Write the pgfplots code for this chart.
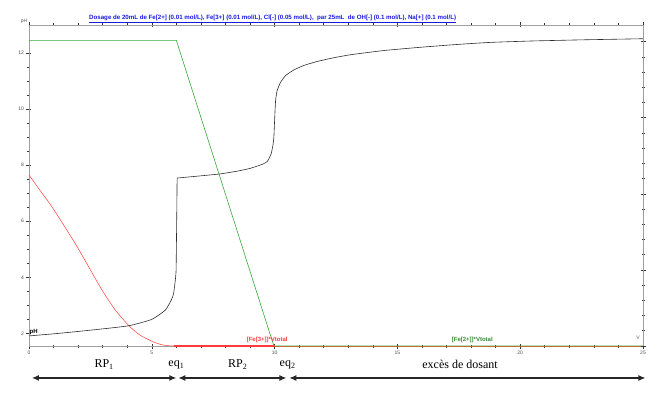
\documentclass[border=0pt]{standalone}
\usepackage{pgfplots}
\pgfplotsset{compat=1.18}
\usetikzlibrary{arrows.meta}
\usepackage{fontspec}
\setmainfont{Liberation Sans}
\newfontfamily\serif{Liberation Serif}
\definecolor{cblack}{RGB}{45,45,45}
\definecolor{cgreen}{RGB}{60,165,60}
\definecolor{cred}{RGB}{255,60,60}
\definecolor{cblue}{RGB}{25,25,225}
\begin{document}
\begin{tikzpicture}
\begin{axis}[
  scale only axis, width=614pt, height=321pt,
  xmin=0, xmax=25, ymin=1.55, ymax=13.0,
  clip=false,
  axis line style={gray!75, line width=0.8pt},
  xtick={0,5,...,25}, minor x tick num=4,
  ytick={2,4,...,12}, minor y tick num=3,
  xtick pos=both, xticklabel pos=lower, ytick pos=left,
  tick align=center, major tick length=5pt, minor tick length=3pt,
  tick style={gray!40!black, line width=0.6pt},
  ticklabel style={font=\fontsize{5}{6}\selectfont, text=gray!60!black},
  xticklabel style={yshift=1pt},
  yticklabel style={xshift=1pt},
  /pgf/number format/assume math mode=true,
]
% red [Fe3+]*Vtotal
\addplot[cred, line width=0.5pt, smooth, tension=0.4] coordinates {
(0,7.65) (0.45,7.10) (0.93,6.52) (1.4,5.88) (1.88,5.21) (2.4,4.42) (2.97,3.55)
(3.5,2.85) (4.05,2.29) (4.5,1.95) (5.0,1.72) (5.3,1.62) (5.6,1.565) (5.95,1.55)};
\addplot[cred, line width=1.2pt] coordinates {(5.9,1.55) (10,1.55)};
\addplot[cred!70!orange, line width=0.6pt] coordinates {(10,1.55) (25,1.55)};
% green [Fe2+]*Vtotal
\addplot[cgreen, line width=0.6pt] coordinates {(0,12.45) (6.0,12.45) (9.97,1.55) (25,1.55)};
% pH
\addplot[cblack, line width=0.6pt, smooth, tension=0.3] coordinates {
(0,1.91) (1.2,2.0) (2.56,2.12) (4.05,2.27) (5.0,2.5) (5.55,2.83) (5.8,3.2) (5.89,3.43) (5.97,4.0) (5.99,4.26)};
\addplot[cblack, line width=0.6pt] coordinates {(5.99,4.26) (6.02,6.5) (6.03,7.54)};
\addplot[cblack, line width=0.6pt, smooth, tension=0.3] coordinates {
(6.03,7.54) (7.0,7.62) (7.8,7.69) (8.5,7.79) (9.02,7.89) (9.5,8.03) (9.7,8.13) (9.85,8.38) (9.93,8.7) (9.97,9.0)
(10.0,9.6) (10.04,10.3) (10.1,10.65) (10.24,10.95) (10.45,11.2) (10.79,11.40) (11.2,11.56) (11.74,11.70) (12.4,11.83) (13.1,11.94)
(14.46,12.09) (16,12.21) (17.5,12.31) (18.8,12.38) (20.5,12.43) (22.5,12.47) (25,12.51)};
% texts
\node[anchor=west, font=\fontsize{6}{7}\selectfont\bfseries, text=black, inner sep=0pt] at (axis cs:0.02,2.06) {pH};
\node[font=\fontsize{6}{7}\selectfont\bfseries, text=cred, inner sep=0pt] at (axis cs:9.7,1.78) {[Fe[3+]]*Vtotal};
\node[font=\fontsize{6}{7}\selectfont\bfseries, text=cgreen!85!black, inner sep=0pt] at (axis cs:18.05,1.78) {[Fe[2+]]*Vtotal};
\node[font=\fontsize{5}{6}\selectfont, text=gray!70!black, inner sep=0pt] at (axis cs:24.8,1.83) {V};
\node[anchor=south, font=\fontsize{5}{6}\selectfont, text=gray!70!black, inner sep=0pt] at (axis cs:-0.2,13.05) {pH};
\node[font=\fontsize{6.15}{7}\selectfont\bfseries, text=cblue, inner sep=0pt] at (axis cs:9.92,13.22) {\underline{Dosage de 20mL de Fe[2+] (0.01 mol/L), Fe[3+] (0.01 mol/L), Cl[-] (0.05 mol/L),\ \ par 25mL\ \ de OH[-] (0.1 mol/L), Na[+] (0.1 mol/L)}};
% bottom annotations
\node[font=\serif\fontsize{12}{14}\selectfont] at (axis cs:3.06,0.88) {RP\textsubscript{1}};
\node[font=\serif\fontsize{12}{14}\selectfont, text=black] at (axis cs:6.0,0.88) {eq\textsubscript{1}};
\node[font=\serif\fontsize{12}{14}\selectfont] at (axis cs:8.5,0.88) {RP\textsubscript{2}};
\node[font=\serif\fontsize{12}{14}\selectfont] at (axis cs:10.53,0.88) {eq\textsubscript{2}};
\node[font=\serif\fontsize{12}{14}\selectfont] at (axis cs:17.55,0.88) {excès de dosant};
\draw[line width=1.2pt, black!85, {Latex[length=7pt,width=6pt]}-{Latex[length=7pt,width=6pt]}] (axis cs:0.12,0.41) -- (axis cs:6.0,0.41);
\draw[line width=1.2pt, black!85, {Latex[length=7pt,width=6pt]}-{Latex[length=7pt,width=6pt]}] (axis cs:6.08,0.41) -- (axis cs:10.48,0.41);
\draw[line width=1.2pt, black!85, {Latex[length=7pt,width=6pt]}-{Latex[length=7pt,width=6pt]}] (axis cs:10.6,0.41) -- (axis cs:25.1,0.41);
\end{axis}
\begin{axis}[
  scale only axis, width=614pt, height=321pt,
  xmin=0, xmax=25, ymin=0, ymax=4.22,
  axis x line=none, axis y line*=right,
  axis line style={gray!75, line width=0.8pt, -},
  ytick={0,1,2,3,4}, yticklabels={}, minor y tick num=4,
  tick align=center, major tick length=5pt, minor tick length=3pt,
  tick style={gray!40!black, line width=0.6pt},
]
\addplot[draw=none] coordinates {(0,0)};
\end{axis}
\pgfresetboundingbox
\path[use as bounding box] ([shift={(-29pt,-50pt)}]current axis.south west) rectangle ([shift={(6pt,25pt)}]current axis.north east);
\end{tikzpicture}
\end{document}
